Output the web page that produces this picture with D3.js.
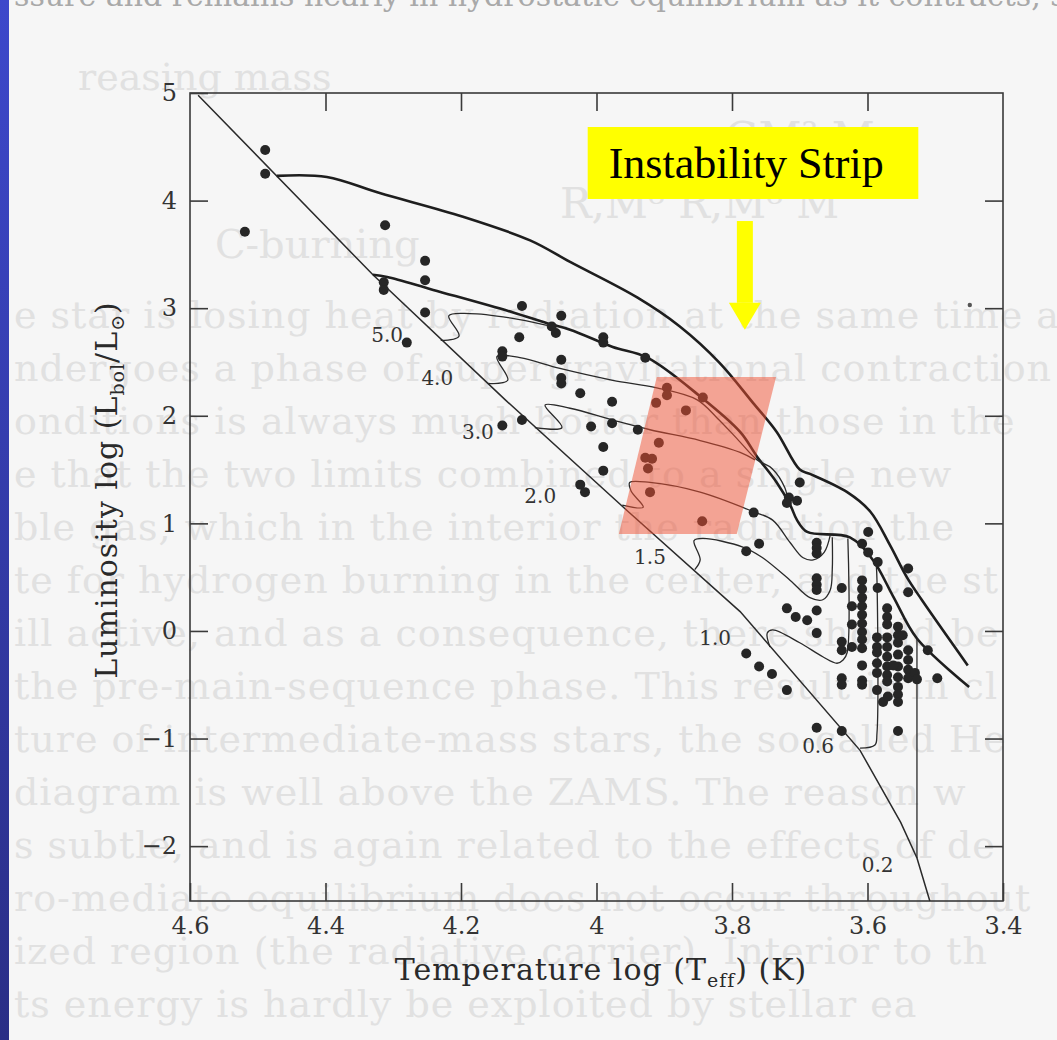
<!DOCTYPE html>
<html lang="en">
<head>
<meta charset="UTF-8">
<title>Pre-main-sequence tracks and the instability strip</title>
<script src="https://d3js.org/d3.v7.min.js"></script>
<style>
  html, body { margin: 0; padding: 0; background: #f6f6f6; }
  svg { display: block; }
</style>
</head>
<body>
<svg id="chart" width="1057" height="1040"></svg>
<script>
// axis ticks
const xTicks = [4.6, 4.4, 4.2, 4.0, 3.8, 3.6, 3.4];
const yTicks = [5, 4, 3, 2, 1, 0, -1, -2];

// every point is [log Teff, log L/Lsun]
const zams = [[4.588, 4.98], [4.330, 3.31], [4.135, 2.15], [3.955, 1.12], [3.788, 0.18],
  [3.611, -1.11], [3.551, -1.78], [3.527, -2.11], [3.508, -2.51]];

// the two thick upper tracks
const trackOuter = [[4.472, 4.23], [4.398, 4.22], [4.320, 4.07], [4.197, 3.85], [4.098, 3.63],
  [4.039, 3.43], [3.940, 3.10], [3.877, 2.83], [3.818, 2.49], [3.769, 2.12], [3.734, 1.85],
  [3.700, 1.50], [3.685, 1.46], [3.630, 1.29], [3.596, 1.11], [3.567, 0.80], [3.542, 0.50],
  [3.520, 0.29], [3.452, -0.32]];
const trackInner = [[4.330, 3.31], [4.309, 3.29], [4.241, 3.17], [4.123, 2.96], [4.073, 2.86],
  [4.039, 2.80], [3.976, 2.64], [3.925, 2.54], [3.847, 2.18], [3.788, 1.85], [3.763, 1.62],
  [3.734, 1.38], [3.714, 1.17], [3.704, 1.03], [3.689, 0.92], [3.626, 0.87], [3.592, 0.66],
  [3.562, 0.32], [3.527, -0.07], [3.450, -0.52]];

// thin tracks, one per mass
const track50 = [[4.230, 2.70], [4.203, 2.74], [4.218, 2.93], [4.187, 2.95], [4.128, 2.91], [4.073, 2.84]];
const track40 = [[4.160, 2.30], [4.131, 2.33], [4.147, 2.55], [4.113, 2.54], [4.054, 2.44], [3.976, 2.33],
  [3.911, 2.26], [3.852, 2.15], [3.822, 1.98], [3.793, 1.79], [3.763, 1.59], [3.741, 1.51],
  [3.722, 1.33], [3.717, 1.19]];
const track30 = [[4.091, 1.89], [4.051, 1.89], [4.076, 2.10], [4.039, 2.07], [3.976, 1.96], [3.921, 1.87],
  [3.847, 1.77], [3.788, 1.66], [3.766, 1.59]];
const track20 = [[3.962, 1.17], [3.931, 1.15], [3.949, 1.30], [3.951, 1.38], [3.921, 1.38], [3.847, 1.29],
  [3.769, 1.11], [3.740, 1.03], [3.714, 0.82], [3.695, 0.68], [3.680, 0.66], [3.664, 0.73], [3.655, 0.89]];
const track15 = [[3.855, 0.57], [3.847, 0.66], [3.856, 0.84], [3.843, 0.86], [3.784, 0.78], [3.757, 0.69],
  [3.714, 0.47], [3.685, 0.31], [3.666, 0.29], [3.655, 0.38], [3.652, 0.57], [3.652, 0.87]];
const track10 = [[3.744, -0.15], [3.748, -0.02], [3.740, 0.01], [3.700, -0.11], [3.666, -0.24],
  [3.645, -0.30], [3.636, -0.27], [3.630, -0.20], [3.629, 0.86]];
const track06 = [[3.611, -1.09], [3.589, -1.06], [3.586, -0.95], [3.586, 0.47], [3.587, 0.61]];
const track02 = [[3.527, -2.11], [3.527, -0.07]];

const thinTracks = [track50, track40, track30, track20, track15, track10, track06, track02];
const massLabels = ["5.0", "4.0", "3.0", "2.0", "1.5", "1.0", "0.6", "0.2"];
const massLabelAt = [[4.309, 2.75], [4.235, 2.35], [4.175, 1.85], [4.083, 1.25], [3.921, 0.69],
  [3.825, -0.07], [3.673, -1.07], [3.585, -2.18]];

// observed stars
const stars = [
  [4.489, 4.47], [4.489, 4.25], [4.519, 3.71], [4.312, 3.77], [4.253, 3.44], [4.253, 3.26],
  [4.314, 3.24], [4.314, 3.17], [4.253, 2.96], [4.280, 2.68], [4.110, 3.02], [4.052, 2.93],
  [4.114, 2.73], [4.066, 2.83], [4.060, 2.77], [3.990, 2.73], [3.990, 2.68], [3.928, 2.54],
  [4.139, 2.60], [4.139, 2.55], [4.052, 2.52], [4.052, 2.35], [4.052, 2.30], [4.024, 2.21],
  [3.977, 2.13], [4.139, 1.91], [4.110, 1.96], [4.008, 1.90], [3.977, 1.93], [3.939, 1.87],
  [3.990, 1.71], [3.990, 1.49], [4.024, 1.36], [4.017, 1.29],
  [3.896, 2.26], [3.896, 2.19], [3.912, 2.12], [3.843, 2.17], [3.868, 2.05], [3.908, 1.75],
  [3.928, 1.61], [3.918, 1.60], [3.924, 1.51], [3.921, 1.29], [3.844, 1.02],
  [3.768, 1.10], [3.700, 1.38], [3.716, 1.24], [3.704, 1.21], [3.719, 1.19], [3.760, 0.81],
  [3.779, 0.74], [3.675, 0.82], [3.675, 0.77], [3.675, 0.72], [3.599, 0.92], [3.608, 0.81],
  [3.599, 0.73], [3.585, 0.64], [3.540, 0.58], [3.540, 0.36], [3.675, 0.49], [3.675, 0.43],
  [3.675, 0.38], [3.638, 0.40], [3.719, 0.21], [3.706, 0.13], [3.689, 0.10], [3.675, 0.19],
  [3.675, -0.02], [3.585, 0.40],
  [3.608, 0.47], [3.608, 0.39], [3.608, 0.31], [3.608, 0.23], [3.608, 0.15], [3.608, 0.07],
  [3.608, -0.01], [3.608, -0.08], [3.608, -0.16], [3.623, 0.23], [3.623, 0.06], [3.638, -0.10],
  [3.638, -0.18], [3.623, -0.15], [3.608, -0.32], [3.608, -0.46], [3.608, -0.50], [3.638, -0.44],
  [3.638, -0.50],
  [3.586, -0.06], [3.586, -0.15], [3.586, -0.20], [3.586, -0.30], [3.586, -0.39], [3.586, -0.55],
  [3.571, 0.21], [3.571, 0.13], [3.571, 0.06], [3.571, -0.06], [3.571, -0.15], [3.571, -0.24],
  [3.571, -0.33], [3.571, -0.41], [3.571, -0.47],
  [3.555, 0.04], [3.555, -0.04], [3.555, -0.11], [3.555, -0.22], [3.555, -0.33], [3.555, -0.43],
  [3.555, -0.52], [3.555, -0.59], [3.555, -0.66],
  [3.540, -0.18], [3.540, -0.27], [3.540, -0.36], [3.540, -0.44], [3.548, -0.04],
  [3.530, -0.39], [3.527, -0.45], [3.562, -0.32],
  [3.511, -0.18], [3.497, -0.44], [3.577, -0.66], [3.570, -0.61],
  [3.779, -0.21], [3.760, -0.33], [3.741, -0.40], [3.719, -0.55],
  [3.675, -0.90], [3.638, -0.93], [3.555, -0.93]
];
const speck = [[3.449, 3.03]];

// instability strip corners
const strip = [[3.911, 2.36], [3.735, 2.36], [3.793, 0.90], [3.967, 0.90]];

// faint text of the scanned page behind the figure
const ghostLines = [
  "e star is losing heat by radiation at the same time a",
  "ndergoes a phase of supergravitational contraction",
  "onditions is always much hotter than those in the",
  "e that the two limits combined to a single new",
  "ble gas, which in the interior the radiation the",
  "te for hydrogen burning in the center, and the st",
  "ill active, and as a consequence, there should be",
  "the pre-main-sequence phase. This result is in cl",
  "ture of intermediate-mass stars, the so-called He",
  "diagram is well above the ZAMS. The reason w",
  "s subtle, and is again related to the effects of de",
  "ro-mediate equilibrium does not occur throughout",
  "ized region (the radiative carrier). Interior to th",
  "ts energy is hardly be exploited by stellar ea"
];

const svg = d3.select("#chart");
const W = 1057, H = 1040;
const m = { left: 190, right: 1003, top: 93, bottom: 901 };

const x = d3.scaleLinear().domain([4.6, 3.4]).range([m.left, m.right]);
const y = d3.scaleLinear().domain([-2.51, 5]).range([m.bottom, m.top]);

// page background and the blue slide edge
const defs = svg.append("defs");
const grad = defs.append("linearGradient").attr("id", "edge")
  .attr("x1", 0).attr("y1", 0).attr("x2", 0).attr("y2", 1);
grad.append("stop").attr("offset", "0%").attr("stop-color", "#3d48cb");
grad.append("stop").attr("offset", "100%").attr("stop-color", "#2a2e86");

svg.append("rect").attr("width", W).attr("height", H).attr("fill", "#f6f6f6");

const ghost = svg.append("g")
  .attr("font-family", "DejaVu Serif")
  .attr("fill", "#e1e1e1");
ghost.append("text").attr("x", 14).attr("y", 6).attr("font-size", 30)
  .attr("fill", "#a9a9a9").text("ssure and remains nearly in hydrostatic equilibrium as it contracts, so");
ghost.append("text").attr("x", 78).attr("y", 90).attr("font-size", 38).text("reasing mass");
ghost.append("text").attr("x", 725).attr("y", 152).attr("font-size", 42).text("GM\u00b2     M,");
ghost.append("text").attr("x", 560).attr("y", 218).attr("font-size", 42).text("R,M\u2076   R,M\u2076   M");
ghost.append("text").attr("x", 215).attr("y", 258).attr("font-size", 40).text("C-burning");
ghost.selectAll("text.line")
  .data(ghostLines)
  .join("text")
  .attr("class", "line")
  .attr("x", 14)
  .attr("y", (d, i) => 328 + i * 53)
  .attr("font-size", 38)
  .attr("letter-spacing", 1)
  .text(d => d);

svg.append("rect").attr("width", 9).attr("height", H).attr("fill", "url(#edge)");

// frame and inward ticks on four sides
const ink = "#3a3a3a";
svg.append("rect")
  .attr("x", m.left).attr("y", m.top)
  .attr("width", m.right - m.left).attr("height", m.bottom - m.top)
  .attr("fill", "none").attr("stroke", ink).attr("stroke-width", 1.6);

function styleAxis(g) {
  g.select(".domain").remove();
  g.selectAll(".tick line").attr("stroke", ink).attr("stroke-width", 1.6);
  g.selectAll(".tick text")
    .attr("fill", "#333")
    .attr("font-family", "DejaVu Serif")
    .attr("font-size", 24);
}

svg.append("g")
  .attr("transform", `translate(0,${m.bottom})`)
  .call(d3.axisBottom(x).tickValues(xTicks).tickSize(-18).tickPadding(16)
    .tickFormat(d => d === 4 ? "4" : d3.format(".1f")(d)))
  .call(styleAxis);

svg.append("g")
  .attr("transform", `translate(${m.left},0)`)
  .call(d3.axisLeft(y).tickValues(yTicks).tickSize(-18).tickPadding(13).tickFormat(d3.format("d")))
  .call(styleAxis);

svg.append("g")
  .attr("transform", `translate(0,${m.top})`)
  .call(d3.axisTop(x).tickValues(xTicks.slice(1, -1)).tickSize(-18).tickFormat(""))
  .call(styleAxis);

svg.append("g")
  .attr("transform", `translate(${m.right},0)`)
  .call(d3.axisRight(y).tickValues(yTicks.slice(1)).tickSize(-18).tickFormat(""))
  .call(styleAxis);

// axis titles
const xTitle = svg.append("text")
  .attr("x", 601).attr("y", 980)
  .attr("text-anchor", "middle")
  .attr("font-family", "DejaVu Serif").attr("font-size", 30)
  .attr("letter-spacing", 1).attr("fill", "#2a2a2a");
xTitle.append("tspan").text("Temperature log (T");
xTitle.append("tspan").attr("font-size", 19).attr("dy", 7).text("eff");
xTitle.append("tspan").attr("dy", -7).text(") (K)");

const yTitle = svg.append("text")
  .attr("transform", "translate(117,490) rotate(-90)")
  .attr("text-anchor", "middle")
  .attr("font-family", "DejaVu Serif").attr("font-size", 30)
  .attr("letter-spacing", 1).attr("fill", "#2a2a2a");
yTitle.append("tspan").text("Luminosity log (L");
yTitle.append("tspan").attr("font-size", 19).attr("dy", 7).text("bol");
yTitle.append("tspan").attr("dy", -7).text("/L");
yTitle.append("tspan").attr("font-size", 19).attr("dy", 7).text("\u2299");
yTitle.append("tspan").attr("dy", -7).text(")");

// tracks
const line = d3.line()
  .x(d => x(d[0]))
  .y(d => y(d[1]))
  .curve(d3.curveCatmullRom.alpha(0.5));

const plot = svg.append("g");

plot.append("path")
  .datum(zams)
  .attr("fill", "none").attr("stroke", "#2a2a2a").attr("stroke-width", 1.5)
  .attr("d", d3.line().x(d => x(d[0])).y(d => y(d[1])));

plot.selectAll("path.thick")
  .data([trackOuter, trackInner])
  .join("path")
  .attr("class", "thick")
  .attr("fill", "none").attr("stroke", "#1e1e1e").attr("stroke-width", 2.6)
  .attr("stroke-linejoin", "round")
  .attr("d", line);

plot.selectAll("path.thin")
  .data(thinTracks)
  .join("path")
  .attr("class", "thin")
  .attr("fill", "none").attr("stroke", "#2a2a2a").attr("stroke-width", 1.3)
  .attr("stroke-linejoin", "round")
  .attr("d", line);

plot.selectAll("text.mass")
  .data(massLabels)
  .join("text")
  .attr("class", "mass")
  .attr("x", (d, i) => x(massLabelAt[i][0]))
  .attr("y", (d, i) => y(massLabelAt[i][1]))
  .attr("text-anchor", "middle")
  .attr("dominant-baseline", "central")
  .attr("font-family", "DejaVu Serif").attr("font-size", 20)
  .attr("fill", "#333")
  .text(d => d);

plot.selectAll("circle.star")
  .data(stars)
  .join("circle")
  .attr("class", "star")
  .attr("cx", d => x(d[0]))
  .attr("cy", d => y(d[1]))
  .attr("r", 5)
  .attr("fill", "#262626");

plot.selectAll("circle.speck")
  .data(speck)
  .join("circle")
  .attr("class", "speck")
  .attr("cx", d => x(d[0]))
  .attr("cy", d => y(d[1]))
  .attr("r", 2.2)
  .attr("fill", "#555");

// instability strip, laid over the tracks
plot.append("polygon")
  .attr("points", strip.map(d => [x(d[0]), y(d[1])].join(",")).join(" "))
  .attr("fill", "rgb(240,80,50)")
  .attr("fill-opacity", 0.5);

// callout
const boxT = [4.013, 3.525], boxL = [4.684, 4.015];
svg.append("rect")
  .attr("x", x(boxT[0])).attr("y", y(boxL[0]))
  .attr("width", x(boxT[1]) - x(boxT[0]))
  .attr("height", y(boxL[1]) - y(boxL[0]))
  .attr("fill", "#ffff00");
svg.append("text")
  .attr("x", x(3.982)).attr("y", y(4.21))
  .attr("font-family", "Liberation Serif").attr("font-size", 44)
  .attr("fill", "#000")
  .text("Instability Strip");

const arrowT = 3.781, arrowTop = 3.81, arrowNeck = 3.05, arrowTip = 2.80;
const ax = x(arrowT);
svg.append("rect")
  .attr("x", ax - 8).attr("y", y(arrowTop))
  .attr("width", 16).attr("height", y(arrowNeck) - y(arrowTop))
  .attr("fill", "#ffff00");
svg.append("polygon")
  .attr("points", `${ax - 16},${y(arrowNeck)} ${ax + 16},${y(arrowNeck)} ${ax},${y(arrowTip)}`)
  .attr("fill", "#ffff00");
</script>
</body>
</html>
